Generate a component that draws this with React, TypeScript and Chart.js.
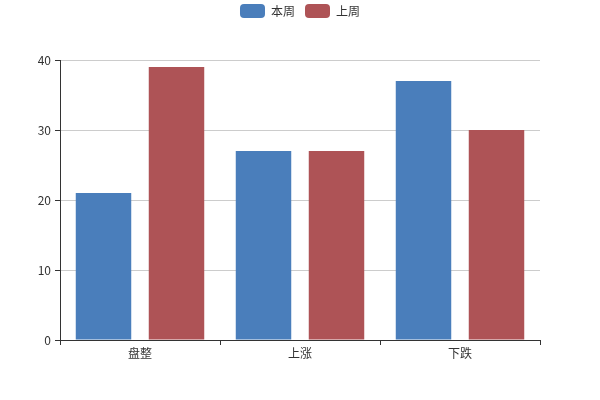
import React, { useEffect, useRef } from "react";
import { Chart, registerables } from "chart.js";

Chart.register(...registerables);

const categories = ["盘整", "上涨", "下跌"];
const thisWeek = [21, 27, 37];
const lastWeek = [39, 27, 30];
const seriesNames = ["本周", "上周"];

const FONT = "'Microsoft YaHei', 'Noto Sans CJK SC', sans-serif";

export default function App() {
  const ref = useRef<HTMLCanvasElement | null>(null);
  useEffect(() => {
    if (!ref.current) return;
    const spacer = {
      id: "legendSpacer",
      beforeInit(chart: any) {
        const legend = chart.legend;
        if (!legend) return;
        const origFit = legend.fit;
        legend.fit = function () {
          origFit.call(legend);
          legend.height += 26;
        };
        const origDraw = legend.draw;
        legend.draw = function () {
          const ctx = chart.ctx;
          ctx.save();
          ctx.translate(0, -6);
          origDraw.call(legend);
          ctx.restore();
        };
      },
    };
    const chart = new Chart(ref.current, {
      type: "bar",
      data: {
        labels: categories,
        datasets: [
          {
            label: seriesNames[0],
            data: thisWeek,
            backgroundColor: "#4a7ebb",
            categoryPercentage: 0.9125,
            barPercentage: 0.76,
          },
          {
            label: seriesNames[1],
            data: lastWeek,
            backgroundColor: "#ae5356",
            categoryPercentage: 0.9125,
            barPercentage: 0.76,
          },
        ],
      },
      options: {
        responsive: false,
        animation: false,
        layout: { padding: 0 },
        plugins: {
          legend: {
            position: "top",
            labels: {
              boxWidth: 25,
              boxHeight: 14,
              padding: 10,
              useBorderRadius: true,
              borderRadius: 4,
              color: "#333",
              font: { family: FONT, size: 12 },
            },
          },
          tooltip: { enabled: false },
        },
        scales: {
          x: {
            grid: {
              offset: true,
              drawOnChartArea: false,
              drawTicks: true,
              tickLength: 5,
              tickColor: "#333",
            },
            border: { color: "#333", width: 1 },
            ticks: { color: "#333", padding: 1, font: { family: FONT, size: 12 } },
            afterFit(scale: any) {
              scale.height = 60;
            },
          },
          y: {
            min: 0,
            max: 40,
            ticks: { stepSize: 10, color: "#333", padding: 4, font: { family: FONT, size: 12 } },
            grid: { color: "#ccc", tickColor: "#333", tickLength: 5 },
            border: { color: "#333", width: 1 },
            afterFit(scale: any) {
              scale.width = 60;
            },
          },
          yRight: {
            position: "right",
            display: true,
            min: 0,
            max: 40,
            ticks: { display: false },
            grid: { display: false, drawOnChartArea: false, drawTicks: false },
            border: { display: false },
            afterFit(scale: any) {
              scale.width = 60;
            },
          },
        },
      },
      plugins: [spacer],
    } as any);
    return () => chart.destroy();
  }, []);
  return (
    <div style={{ position: "fixed", left: 0, top: 0, width: 600, height: 400, background: "#fff" }}>
      <canvas ref={ref} width={600} height={400} />
    </div>
  );
}
